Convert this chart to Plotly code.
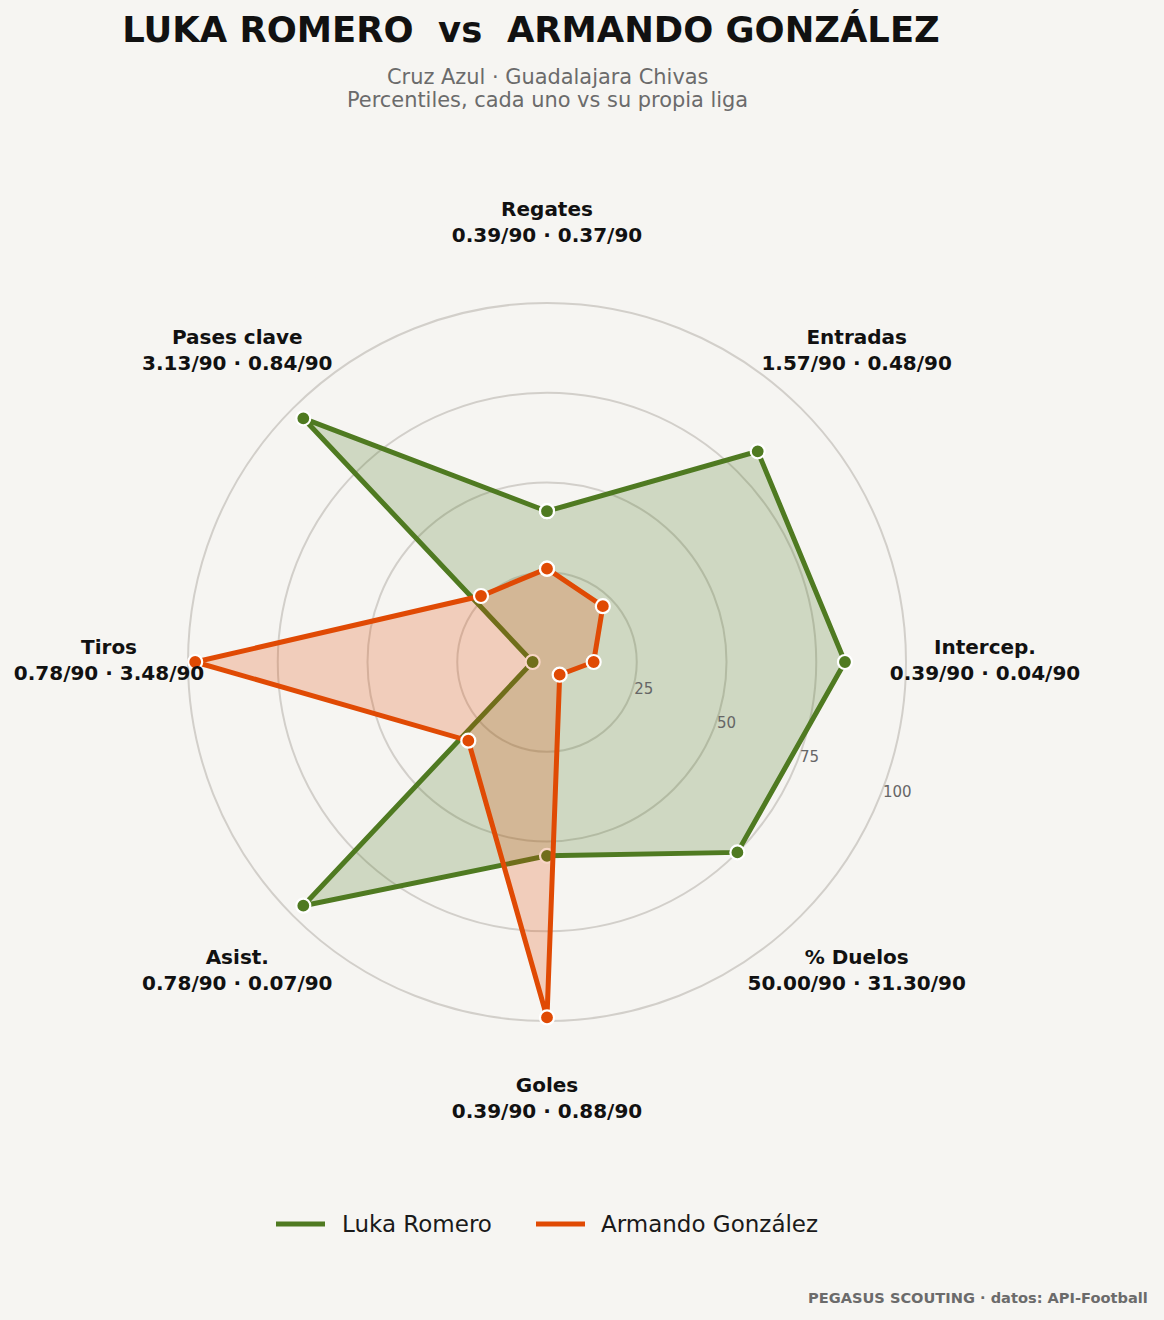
import plotly.graph_objects as go

categories = ["Regates", "Entradas", "Intercep.", "% Duelos", "Goles", "Asist.", "Tiros", "Pases clave"]
luka_pct = [42, 83, 83, 75, 54, 96, 4, 96]
armando_pct = [26, 22, 13, 5, 99, 31, 98, 26]
luka_p90 = ["0.39", "1.57", "0.39", "50.00", "0.39", "0.78", "0.78", "3.13"]
armando_p90 = ["0.37", "0.48", "0.04", "31.30", "0.88", "0.07", "3.48", "0.84"]
ring_ticks = [25, 50, 75, 100]
names = ["Luka Romero", "Armando González"]

BG = "#f6f5f2"
GREEN = "#4f7a21"
ORANGE = "#e04a04"
FONT = "DejaVu Sans"

W, H = 1164, 1320
cx, cy = 547, 662
R_MAX = 125
rad_px = 359 / 100 * R_MAX

fig = go.Figure()

def closed(v):
    return list(v) + [v[0]]

for vals, col, fillc in [(luka_pct, GREEN, "rgba(79,122,33,0.23)"),
                         (armando_pct, ORANGE, "rgba(224,74,4,0.23)")]:
    fig.add_trace(go.Scatterpolar(
        r=closed(vals), theta=closed(categories), mode="lines+markers",
        fill="toself", fillcolor=fillc,
        line=dict(color=col, width=5),
        marker=dict(size=14, color=col, line=dict(color="white", width=2.2)),
        showlegend=False, hoverinfo="skip"))

labels = [f"<b>{c}</b><br><b>{a}/90 · {b}/90</b>" for c, a, b in zip(categories, luka_p90, armando_p90)]
fig.add_trace(go.Scatterpolar(
    r=[122] * len(categories), theta=categories, mode="text", text=labels,
    textposition="middle center", cliponaxis=False,
    textfont=dict(family=FONT, size=20, color="#111111"),
    showlegend=False, hoverinfo="skip"))

# legend drawn manually (line glyph + label)
leg_x = [(276, 325, 340), (536, 585, 599)]
leg_y = 1 - 1224 / H
shapes = []
annotations = []
for (x0, x1, xt), n, col in zip(leg_x, names, [GREEN, ORANGE]):
    shapes.append(dict(type="line", xref="paper", yref="paper", x0=x0 / W, x1=x1 / W, y0=leg_y, y1=leg_y,
                       line=dict(color=col, width=5)))
    annotations.append(dict(text=n, x=xt / W, y=leg_y, xref="paper", yref="paper", xanchor="left",
                            yanchor="middle", showarrow=False,
                            font=dict(family=FONT, size=23, color="#1a1a1a")))

annotations += [
    dict(text="Cruz Azul · Guadalajara Chivas", x=547 / W, y=1 - 77 / H, xref="paper", yref="paper",
         xanchor="center", yanchor="middle", showarrow=False,
         font=dict(family=FONT, size=20.9, color="#6b6b6b")),
    dict(text="Percentiles, cada uno vs su propia liga", x=547 / W, y=1 - 100 / H, xref="paper", yref="paper",
         xanchor="center", yanchor="middle", showarrow=False,
         font=dict(family=FONT, size=20.9, color="#6b6b6b")),
    dict(text="<b>PEGASUS SCOUTING · datos: API-Football</b>", x=1150 / W, y=1 - 1297 / H,
         xref="paper", yref="paper", xanchor="right", yanchor="middle", showarrow=False,
         font=dict(family=FONT, size=14.6, color="#6b6b6b")),
]

fig.update_layout(
    width=W, height=H,
    paper_bgcolor=BG, plot_bgcolor=BG,
    margin=dict(l=0, r=0, t=0, b=0),
    font=dict(family=FONT, color="#111111"),
    showlegend=False,
    polar=dict(
        bgcolor=BG,
        domain=dict(x=[(cx - rad_px) / W, (cx + rad_px) / W],
                    y=[(H - cy - rad_px) / H, (H - cy + rad_px) / H]),
        angularaxis=dict(rotation=90, direction="clockwise", type="category",
                         categoryarray=categories,
                         showgrid=False, showline=False, ticks="", showticklabels=False),
        radialaxis=dict(range=[0, R_MAX], tickvals=ring_ticks, ticktext=[str(t) for t in ring_ticks],
                        showline=False, ticks="", angle=-22.5, side="counterclockwise", tickangle=-22.5,
                        gridcolor="#d2cfca", gridwidth=1.5,
                        tickfont=dict(family=FONT, size=15, color="#666666")),
    ),
    title=dict(text="<b>LUKA ROMERO\u00a0\u00a0vs\u00a0\u00a0ARMANDO GONZÁLEZ</b>",
               x=531 / W, xanchor="center", y=1 - 30 / H, yanchor="middle", yref="container",
               font=dict(family=FONT, size=35.4, color="#111111")),
    shapes=shapes,
    annotations=annotations,
)

fig.write_html("out.html", config={"displayModeBar": False},
               post_script="document.body.style.margin='0';document.body.style.background='#f6f5f2';")
